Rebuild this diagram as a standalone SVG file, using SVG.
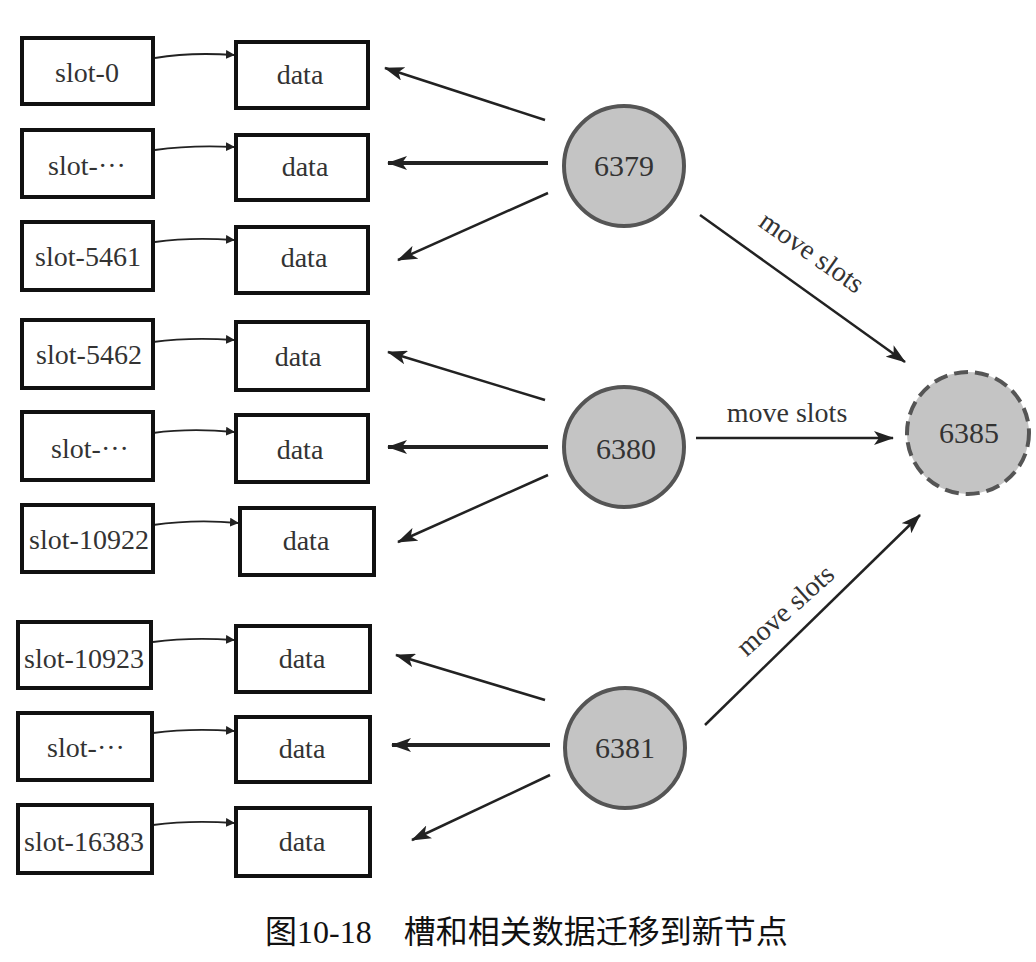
<svg xmlns="http://www.w3.org/2000/svg" width="1036" height="962" viewBox="0 0 1036 962">
<defs>
<style>
.box{fill:#fff;stroke:#111;stroke-width:4}
.t{font-family:"Liberation Serif",serif;font-size:28px;fill:#333;text-anchor:middle;dominant-baseline:central}
.n{font-size:30px}
.node{fill:#c4c4c4;stroke:#555;stroke-width:4}
.lnk{stroke:#222;stroke-width:2.5;fill:none}
.thick{stroke:#222;stroke-width:4;fill:none}
.sm{stroke:#222;stroke-width:1.8;fill:none}
.cap{font-family:"Liberation Serif","Noto Sans CJK SC",serif;font-size:32px;fill:#111}
</style>
<marker id="ah" viewBox="0 0 10 10" refX="9" refY="5" markerWidth="9" markerHeight="9" markerUnits="userSpaceOnUse" orient="auto"><path d="M0,0 L10,5 L0,10 Z" fill="#222"/></marker>
<marker id="big" viewBox="0 0 20 14" refX="19" refY="7" markerWidth="20" markerHeight="14" markerUnits="userSpaceOnUse" orient="auto"><path d="M0,0 L20,7 L0,14 L5,7 Z" fill="#222"/></marker>
</defs>
<g id="connectors">
<path class="sm" d="M155,58 Q190,52 234,55" marker-end="url(#ah)"/>
<path class="sm" d="M155,150 Q190,145 234,147" marker-end="url(#ah)"/>
<path class="sm" d="M155,242 Q190,237 234,240" marker-end="url(#ah)"/>
<path class="sm" d="M153,342 Q190,337 234,340" marker-end="url(#ah)"/>
<path class="sm" d="M153,433 Q190,428 234,432" marker-end="url(#ah)"/>
<path class="sm" d="M153,525 Q195,519 238,523" marker-end="url(#ah)"/>
<path class="sm" d="M153,642 Q190,637 234,640" marker-end="url(#ah)"/>
<path class="sm" d="M153,733 Q190,728 234,731" marker-end="url(#ah)"/>
<path class="sm" d="M153,825 Q190,820 234,823" marker-end="url(#ah)"/>
<line class="lnk" x1="545" y1="120" x2="385" y2="68" marker-end="url(#big)"/>
<line class="thick" x1="548" y1="163" x2="388" y2="163" marker-end="url(#big)"/>
<line class="lnk" x1="548" y1="193" x2="398" y2="260" marker-end="url(#big)"/>
<line class="lnk" x1="545" y1="400" x2="388" y2="352" marker-end="url(#big)"/>
<line class="thick" x1="548" y1="447" x2="388" y2="447" marker-end="url(#big)"/>
<line class="lnk" x1="548" y1="475" x2="398" y2="542" marker-end="url(#big)"/>
<line class="lnk" x1="545" y1="700" x2="396" y2="655" marker-end="url(#big)"/>
<line class="thick" x1="550" y1="745" x2="392" y2="745" marker-end="url(#big)"/>
<line class="lnk" x1="550" y1="775" x2="412" y2="840" marker-end="url(#big)"/>
<line class="lnk" x1="700" y1="215" x2="905" y2="362" marker-end="url(#big)"/>
<line class="lnk" x1="696" y1="438" x2="893" y2="438" marker-end="url(#big)"/>
<line class="lnk" x1="705" y1="725" x2="920" y2="515" marker-end="url(#big)"/>
<text class="t" x="812" y="252" transform="rotate(35 812 252)">move slots</text>
<text class="t" x="787" y="412">move slots</text>
<text class="t" x="785" y="610" transform="rotate(-42 785 610)">move slots</text>
</g>
<g id="slot0"><rect class="box" x="22" y="38" width="131" height="66"/><text class="t" x="87" y="72">slot-0</text></g>
<g id="data1"><rect class="box" x="236" y="42" width="132" height="66"/><text class="t" x="300" y="74">data</text></g>
<g id="slotA"><rect class="box" x="22" y="130" width="131" height="67"/><text class="t" x="87" y="165">slot-···</text></g>
<g id="data2"><rect class="box" x="236" y="135" width="132" height="65"/><text class="t" x="305" y="166">data</text></g>
<g id="slot5461"><rect class="box" x="22" y="222" width="131" height="68"/><text class="t" x="88" y="256">slot-5461</text></g>
<g id="data3"><rect class="box" x="236" y="227" width="132" height="66"/><text class="t" x="304" y="257">data</text></g>
<g id="slot5462"><rect class="box" x="22" y="320" width="131" height="68"/><text class="t" x="89" y="354">slot-5462</text></g>
<g id="data4"><rect class="box" x="236" y="322" width="132" height="68"/><text class="t" x="298" y="356">data</text></g>
<g id="slotB"><rect class="box" x="22" y="412" width="131" height="68"/><text class="t" x="90" y="448">slot-···</text></g>
<g id="data5"><rect class="box" x="236" y="415" width="132" height="67"/><text class="t" x="300" y="449">data</text></g>
<g id="slot10922"><rect class="box" x="22" y="505" width="131" height="67"/><text class="t" x="89" y="539">slot-10922</text></g>
<g id="data6"><rect class="box" x="240" y="508" width="134" height="67"/><text class="t" x="306" y="540">data</text></g>
<g id="slot10923"><rect class="box" x="18" y="622" width="133" height="66"/><text class="t" x="84" y="658">slot-10923</text></g>
<g id="data7"><rect class="box" x="236" y="626" width="134" height="66"/><text class="t" x="302" y="658">data</text></g>
<g id="slotC"><rect class="box" x="18" y="713" width="134" height="67"/><text class="t" x="86" y="747">slot-···</text></g>
<g id="data8"><rect class="box" x="236" y="717" width="134" height="65"/><text class="t" x="302" y="748">data</text></g>
<g id="slot16383"><rect class="box" x="18" y="805" width="134" height="68"/><text class="t" x="84" y="841">slot-16383</text></g>
<g id="data9"><rect class="box" x="236" y="808" width="134" height="68"/><text class="t" x="302" y="841">data</text></g>
<g id="n6379"><circle class="node" cx="624" cy="166" r="60"/><text class="t n" x="624" y="165">6379</text></g>
<g id="n6380"><circle class="node" cx="624" cy="447" r="60"/><text class="t n" x="626" y="448">6380</text></g>
<g id="n6381"><circle class="node" cx="625" cy="748" r="60"/><text class="t n" x="625" y="747">6381</text></g>
<g id="n6385"><circle class="node" cx="968" cy="433" r="61" stroke-dasharray="14,7"/><text class="t n" x="969" y="432">6385</text></g>
<text class="cap" x="265" y="943">图10-18　槽和相关数据迁移到新节点</text>
</svg>
